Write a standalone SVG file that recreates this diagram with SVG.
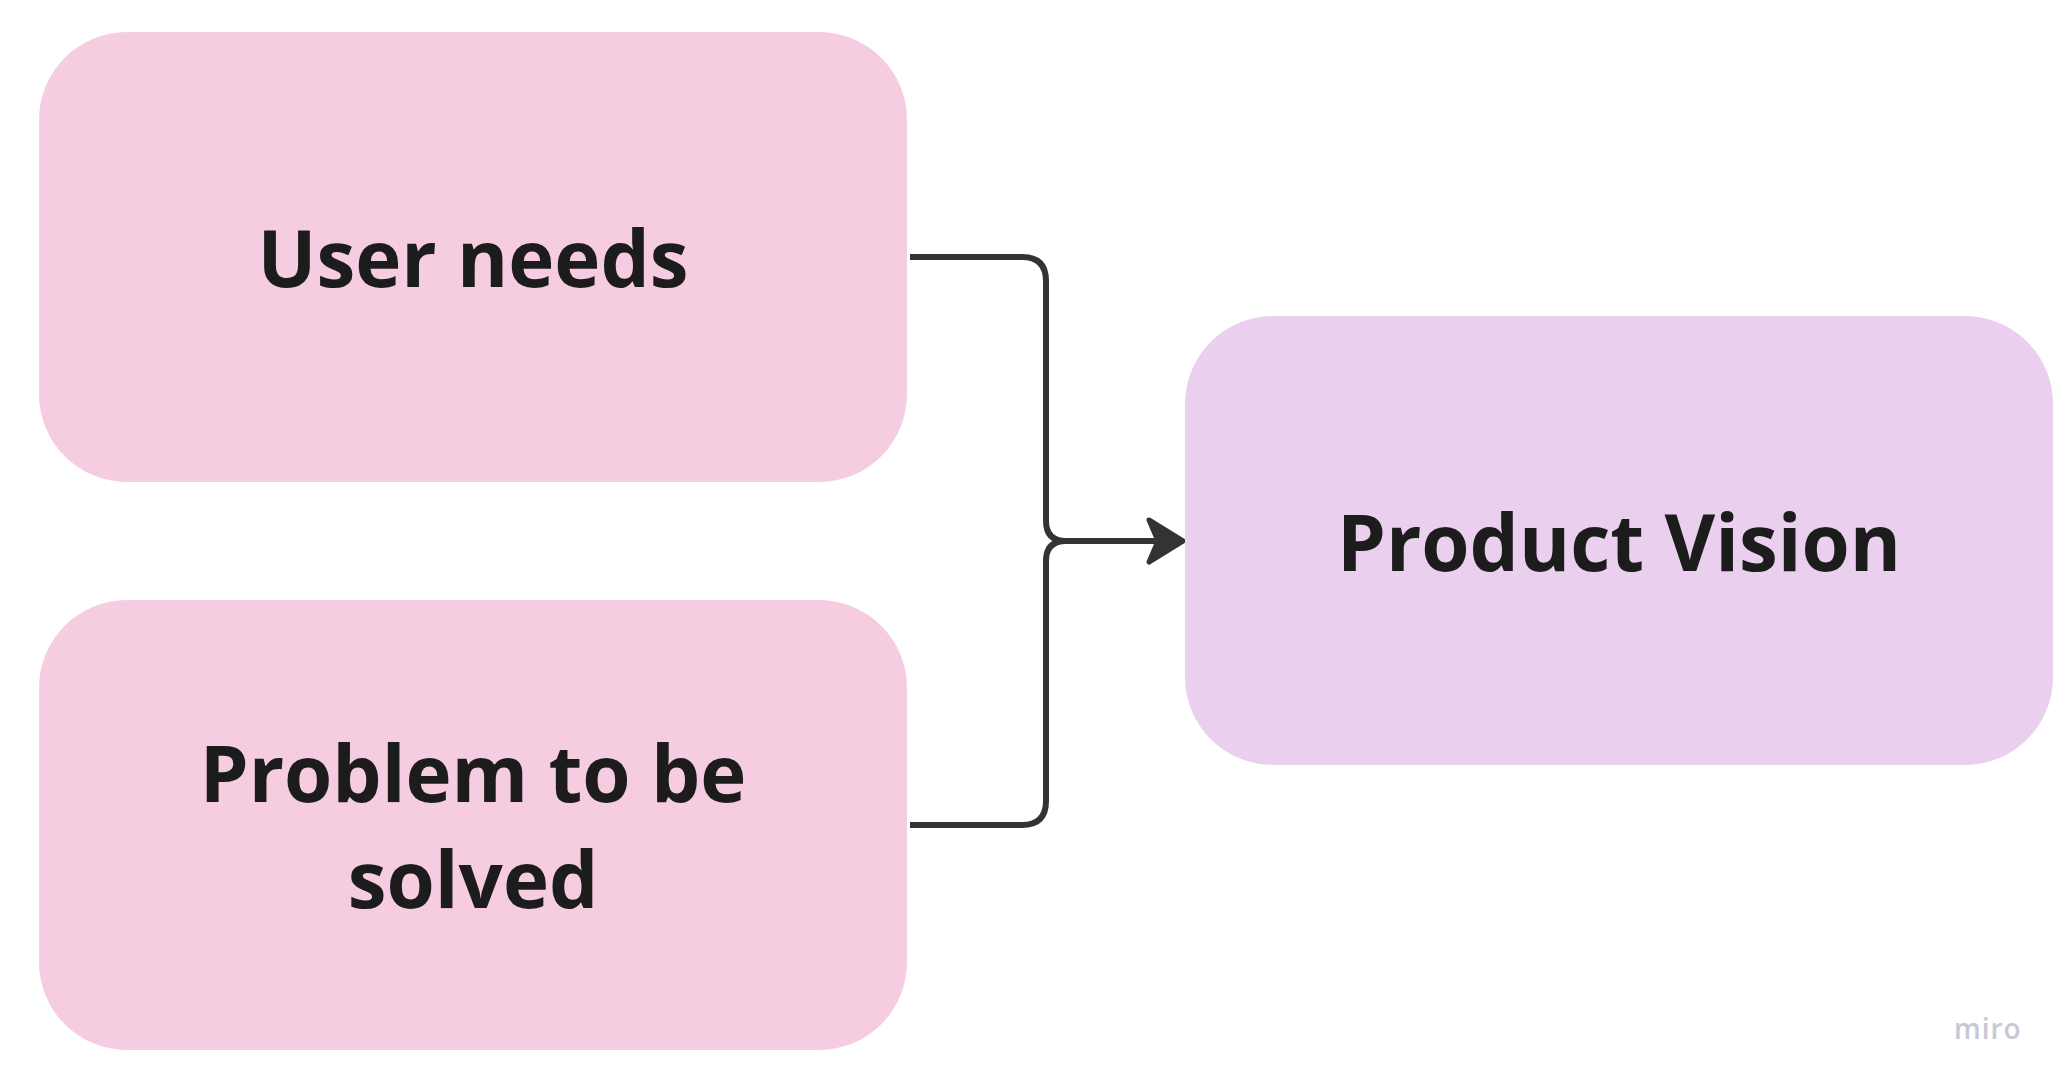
<svg xmlns="http://www.w3.org/2000/svg" width="2069" height="1087" viewBox="0 0 2069 1087">
  <style>
    .pink { fill: #F6CCE1; }
    .purple { fill: #EACFEE; }
    .label { font-family: "Open Sans", "Liberation Sans", sans-serif; font-weight: 700; font-size: 78px; fill: #1C1C1C; text-anchor: middle; }
    .conn { fill: none; stroke: #333333; stroke-width: 6; stroke-linejoin: round; }
    .head { fill: #333333; stroke: #333333; stroke-width: 5; stroke-linejoin: round; }
    .wm { font-family: "Open Sans", "Liberation Sans", sans-serif; font-weight: 600; font-size: 28px; fill: #C8C8D4; letter-spacing: 1px; }
  </style>
  <rect width="2069" height="1087" fill="#FFFFFF"/>
  <g id="connectors">
    <path class="conn" d="M 910 257 H 1022 Q 1046 257 1046 281 V 521 Q 1046 541 1066 541 H 1155"/>
    <path class="conn" d="M 910 825 H 1022 Q 1046 825 1046 801 V 561 Q 1046 541 1066 541 H 1155"/>
    <path class="head" d="M 1149 520 L 1183 541 L 1149 562 L 1158 541 Z"/>
  </g>
  <g id="node-user-needs">
    <rect class="pink" x="39" y="32" width="868" height="450" rx="88" ry="88"/>
    <text class="label" x="473" y="287">User needs</text>
  </g>
  <g id="node-problem">
    <rect class="pink" x="39" y="600" width="868" height="450" rx="88" ry="88"/>
    <text class="label" x="473" y="802">Problem to be</text>
    <text class="label" x="473" y="908">solved</text>
  </g>
  <g id="node-product-vision">
    <rect class="purple" x="1185" y="316" width="868" height="449" rx="88" ry="88"/>
    <text class="label" x="1619" y="571">Product Vision</text>
  </g>
  <text class="wm" x="1954" y="1039">miro</text>
</svg>
